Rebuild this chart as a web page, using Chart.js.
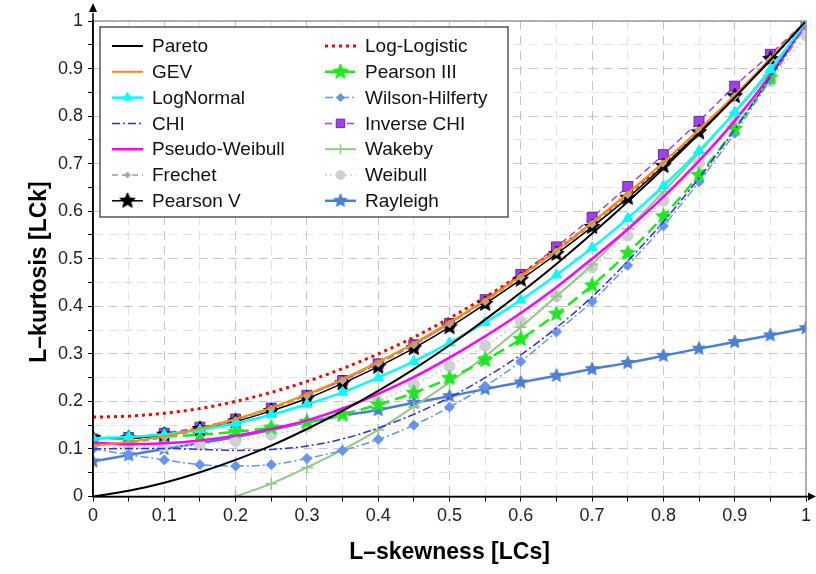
<!DOCTYPE html>
<html lang="en">
<head>
<meta charset="UTF-8">
<title>L-moment ratio diagram</title>
<script src="https://cdn.jsdelivr.net/npm/chart.js"></script>
<style>
  body { margin: 0; background: #fff; }
  #wrap { width: 816px; height: 574px; }
</style>
</head>
<body>
<div id="wrap"><canvas id="lmr" width="816" height="574"></canvas></div>
<script>
  // L-skewness grid (markers every 0.05)
  const lcs = [0, 0.05, 0.1, 0.15, 0.2, 0.25, 0.3, 0.35, 0.4, 0.45, 0.5, 0.55, 0.6, 0.65, 0.7, 0.75, 0.8, 0.85, 0.9, 0.95, 1];
  const xTickLabels = ['0', '0.1', '0.2', '0.3', '0.4', '0.5', '0.6', '0.7', '0.8', '0.9', '1'];
  const yTickLabels = ['0', '0.1', '0.2', '0.3', '0.4', '0.5', '0.6', '0.7', '0.8', '0.9', '1'];

  // L-kurtosis values
  const pareto         = [0, 0.012, 0.029, 0.051, 0.077, 0.107, 0.142, 0.180, 0.222, 0.268, 0.318, 0.372, 0.429, 0.489, 0.553, 0.620, 0.690, 0.763, 0.839, 0.918, 1];
  const gev            = [0.107, 0.115, 0.127, 0.143, 0.163, 0.187, 0.215, 0.247, 0.283, 0.322, 0.366, 0.413, 0.464, 0.518, 0.576, 0.638, 0.703, 0.772, 0.844, 0.921, 1];
  const logNormal      = [0.123, 0.125, 0.131, 0.140, 0.154, 0.172, 0.194, 0.219, 0.250, 0.284, 0.323, 0.366, 0.413, 0.466, 0.523, 0.585, 0.653, 0.727, 0.808, 0.898, 0.998];
  const chi            = [0.100, 0.101, 0.101, 0.099, 0.097, 0.099, 0.106, 0.121, 0.144, 0.173, 0.208, 0.250, 0.298, 0.355, 0.420, 0.495, 0.578, 0.670, 0.772, 0.882, 1];
  const pseudoWeibull  = [0.113, 0.110, 0.112, 0.118, 0.128, 0.142, 0.160, 0.185, 0.216, 0.251, 0.292, 0.337, 0.386, 0.440, 0.500, 0.562, 0.630, 0.706, 0.790, 0.886, 0.995];
  const frechet        = [0.110, 0.113, 0.124, 0.140, 0.160, 0.184, 0.212, 0.244, 0.280, 0.319, 0.363, 0.410, 0.461, 0.515, 0.573, 0.635, 0.700, 0.770, 0.842, 0.919, 1];
  const pearsonV       = [0.123, 0.122, 0.130, 0.142, 0.158, 0.180, 0.206, 0.238, 0.273, 0.312, 0.356, 0.405, 0.456, 0.510, 0.567, 0.628, 0.695, 0.766, 0.842, 0.920, 1];
  const logLogistic    = [0.167, 0.169, 0.175, 0.185, 0.200, 0.219, 0.242, 0.269, 0.300, 0.335, 0.375, 0.419, 0.467, 0.519, 0.575, 0.635, 0.700, 0.769, 0.842, 0.919, 1];
  const pearsonIII     = [0.122, 0.123, 0.126, 0.130, 0.136, 0.145, 0.157, 0.173, 0.193, 0.218, 0.249, 0.287, 0.331, 0.384, 0.444, 0.512, 0.589, 0.676, 0.773, 0.881, 1];
  const wilsonHilferty = [0.100, 0.088, 0.077, 0.067, 0.064, 0.067, 0.080, 0.097, 0.120, 0.150, 0.188, 0.232, 0.284, 0.346, 0.410, 0.486, 0.569, 0.662, 0.764, 0.876, 0.99];
  const inverseChi     = [0.121, 0.124, 0.133, 0.146, 0.163, 0.186, 0.213, 0.244, 0.279, 0.319, 0.364, 0.414, 0.467, 0.525, 0.587, 0.652, 0.719, 0.789, 0.863, 0.930, 1];
  const wakeby         = [null, null, null, null, 0, 0.027, 0.061, 0.098, 0.140, 0.189, 0.240, 0.295, 0.356, 0.421, 0.488, 0.563, 0.641, 0.723, 0.808, 0.893, 1];
  const weibull        = [0.107, 0.104, 0.105, 0.109, 0.117, 0.130, 0.147, 0.170, 0.200, 0.235, 0.274, 0.317, 0.367, 0.421, 0.482, 0.549, 0.622, 0.701, 0.787, 0.873, 0.97];
  const rayleigh       = [0.074, 0.087, 0.100, 0.112, 0.125, 0.140, 0.156, 0.170, 0.182, 0.197, 0.211, 0.226, 0.240, 0.254, 0.268, 0.281, 0.296, 0.311, 0.325, 0.339, 0.354];

  const FONT = "'Liberation Sans', Arial, sans-serif";

  // filled five point star used as a marker
  function starMarker(fill, stroke, r) {
    const c = document.createElement('canvas');
    const s = Math.ceil(r * 2 + 2);
    c.width = s; c.height = s;
    const g = c.getContext('2d');
    g.beginPath();
    for (let i = 0; i < 10; i++) {
      const rr = i % 2 === 0 ? r : r * 0.45;
      const a = -Math.PI / 2 + i * Math.PI / 5;
      g.lineTo(s / 2 + rr * Math.cos(a), s / 2 + rr * Math.sin(a));
    }
    g.closePath();
    g.fillStyle = fill;
    g.fill();
    g.strokeStyle = stroke;
    g.lineWidth = 1;
    g.stroke();
    return c;
  }

  function pts(vals) {
    return lcs.map((x, i) => ({ x: x, y: vals[i] }));
  }

  function series(label, vals, color, opts) {
    return Object.assign({
      label: label,
      data: pts(vals),
      borderColor: color,
      backgroundColor: color,
      borderWidth: 2,
      pointRadius: 0,
      pointBorderWidth: 1,
      pointBorderColor: color,
      cubicInterpolationMode: 'monotone',
      fill: false,
      spanGaps: false
    }, opts || {});
  }

  const datasets = [
    series('Pareto', pareto, '#000000', { borderWidth: 2 }),
    series('GEV', gev, '#ff8c00', { borderWidth: 2 }),
    series('LogNormal', logNormal, '#00ffff', { borderWidth: 2.5, pointStyle: 'triangle', pointRadius: 6 }),
    series('CHI', chi, '#2b2bff', { borderWidth: 1.5, borderDash: [8, 3, 2, 3] }),
    series('Pseudo-Weibull', pseudoWeibull, '#ff00ff', { borderWidth: 2.5 }),
    series('Frechet', frechet, '#9a9a9a', { borderWidth: 1.5, borderDash: [6, 4], pointStyle: 'rectRot', pointRadius: 4, backgroundColor: '#a8a8a8', pointBorderColor: '#a8a8a8' }),
    series('Pearson V', pearsonV, '#000000', { borderWidth: 1.5, pointStyle: starMarker('#000', '#000', 8), pointRadius: 8 }),
    series('Log-Logistic', logLogistic, '#ff0000', { borderWidth: 3, borderDash: [3, 4], borderCapStyle: 'butt' }),
    series('Pearson III', pearsonIII, '#1ee81e', { borderWidth: 2.5, borderDash: [12, 6], pointStyle: starMarker('#1ee81e', '#1ee81e', 8), pointRadius: 8 }),
    series('Wilson-Hilferty', wilsonHilferty, '#6495ed', { borderWidth: 1.5, borderDash: [8, 3, 2, 3], pointStyle: 'rectRot', pointRadius: 5 }),
    series('Inverse CHI', inverseChi, '#a040f0', { borderWidth: 1.5, borderDash: [7, 4], pointStyle: 'rect', pointRadius: 7, backgroundColor: '#a040f0', pointBorderColor: '#6a2aa0' }),
    series('Wakeby', wakeby, '#92c887', { borderWidth: 2, pointStyle: 'cross', pointRadius: 6, pointBorderWidth: 1.5 }),
    series('Weibull', weibull, '#d0d0d0', { borderWidth: 1.5, borderDash: [2, 3], pointStyle: 'circle', pointRadius: 5.5 }),
    series('Rayleigh', rayleigh, '#4a7fd6', { borderWidth: 2.5, pointStyle: starMarker('#4a7fd6', '#4a7fd6', 7), pointRadius: 7 })
  ];

  const legendCols = [
    ['Pareto', 'GEV', 'LogNormal', 'CHI', 'Pseudo-Weibull', 'Frechet', 'Pearson V'],
    ['Log-Logistic', 'Pearson III', 'Wilson-Hilferty', 'Inverse CHI', 'Wakeby', 'Weibull', 'Rayleigh']
  ];

  // axes arrows, plot frame, titles and the boxed legend
  const decor = {
    id: 'decor',
    afterDatasetsDraw(chart) {
      const ctx = chart.ctx;
      const a = chart.chartArea;
      ctx.save();
      // frame on top and right
      ctx.strokeStyle = '#9a9a9a';
      ctx.lineWidth = 1.5;
      ctx.beginPath();
      ctx.moveTo(a.left, a.top);
      ctx.lineTo(a.right, a.top);
      ctx.lineTo(a.right, a.bottom);
      ctx.stroke();
      // axes + arrows
      ctx.strokeStyle = '#000';
      ctx.fillStyle = '#000';
      ctx.lineWidth = 1.5;
      ctx.beginPath();
      ctx.moveTo(a.left, a.bottom);
      ctx.lineTo(a.right + 4, a.bottom);
      ctx.moveTo(a.left, a.bottom);
      ctx.lineTo(a.left, a.top - 8);
      ctx.stroke();
      ctx.beginPath();
      ctx.moveTo(a.right + 10, a.bottom);
      ctx.lineTo(a.right + 2, a.bottom - 4);
      ctx.lineTo(a.right + 2, a.bottom + 4);
      ctx.closePath();
      ctx.fill();
      ctx.beginPath();
      ctx.moveTo(a.left, a.top - 18);
      ctx.lineTo(a.left - 4, a.top - 9);
      ctx.lineTo(a.left + 4, a.top - 9);
      ctx.closePath();
      ctx.fill();

      // titles
      ctx.fillStyle = '#000';
      ctx.font = "bold 23px " + FONT;
      ctx.textAlign = 'center';
      ctx.textBaseline = 'middle';
      ctx.fillText('L\u2013skewness [LCs]', (a.left + a.right) / 2, 553);
      ctx.save();
      ctx.translate(40, 272);
      ctx.rotate(-Math.PI / 2);
      ctx.fillText('L\u2013kurtosis [LCk]', 0, 0);
      ctx.restore();

      // legend box
      const bx = 100, by = 27, bw = 408, bh = 190;
      ctx.fillStyle = '#fff';
      ctx.fillRect(bx, by, bw, bh);
      ctx.strokeStyle = '#555';
      ctx.lineWidth = 1.5;
      ctx.strokeRect(bx, by, bw, bh);
      ctx.font = "19px " + FONT;
      ctx.textAlign = 'left';
      ctx.textBaseline = 'middle';
      const colX = [112, 325];
      legendCols.forEach((col, c) => {
        col.forEach((name, r) => {
          const ds = datasets.find(d => d.label === name);
          const y = 46 + r * 25.8;
          const x0 = colX[c], x1 = x0 + 31;
          ctx.save();
          ctx.strokeStyle = ds.borderColor;
          ctx.lineWidth = ds.borderWidth;
          ctx.setLineDash(ds.borderDash || []);
          ctx.beginPath();
          ctx.moveTo(x0, y);
          ctx.lineTo(x1, y);
          ctx.stroke();
          ctx.restore();
          if (ds.pointRadius > 0) {
            ctx.save();
            ctx.fillStyle = ds.backgroundColor;
            ctx.strokeStyle = ds.pointBorderColor;
            ctx.lineWidth = ds.pointBorderWidth;
            Chart.helpers.drawPoint(ctx, {
              pointStyle: ds.pointStyle,
              radius: Math.max(ds.pointRadius - 1, 3),
              rotation: 0,
              borderWidth: ds.pointBorderWidth
            }, (x0 + x1) / 2, y);
            ctx.restore();
          }
          ctx.fillStyle = '#111';
          ctx.fillText(name, x0 + 40, y + 1);
        });
      });
      ctx.restore();
    }
  };

  function gridColor(c) {
    return c.index % 2 === 0 ? '#c4c4c4' : '#e2e2e2';
  }

  new Chart(document.getElementById('lmr'), {
    type: 'line',
    data: { datasets: datasets },
    options: {
      responsive: false,
      animation: false,
      layout: { padding: { top: 21, right: 10, left: 0, bottom: 0 } },
      plugins: { legend: { display: false }, tooltip: { enabled: false } },
      scales: {
        x: {
          type: 'linear',
          min: 0, max: 1,
          afterFit(s) { s.height = 77.5; },
          ticks: {
            stepSize: 0.05,
            autoSkip: false,
            maxRotation: 0,
            padding: 4,
            color: '#222',
            font: { family: FONT, size: 18 },
            callback: (v, i) => (i % 2 === 0 ? xTickLabels[i / 2] : '')
          },
          grid: { color: gridColor, lineWidth: 1, tickLength: 5, tickColor: '#000' },
          border: { display: true, color: '#000', width: 1.5, dash: [9, 6] }
        },
        y: {
          type: 'linear',
          min: 0, max: 1,
          afterFit(s) { s.width = 93; },
          ticks: {
            stepSize: 0.05,
            autoSkip: false,
            padding: 5,
            color: '#222',
            font: { family: FONT, size: 18 },
            callback: (v, i) => (i % 2 === 0 ? yTickLabels[i / 2] : '')
          },
          grid: { color: gridColor, lineWidth: 1, tickLength: 5, tickColor: '#000' },
          border: { display: true, color: '#000', width: 1.5, dash: [9, 6] }
        }
      }
    },
    plugins: [decor]
  });
</script>
</body>
</html>
